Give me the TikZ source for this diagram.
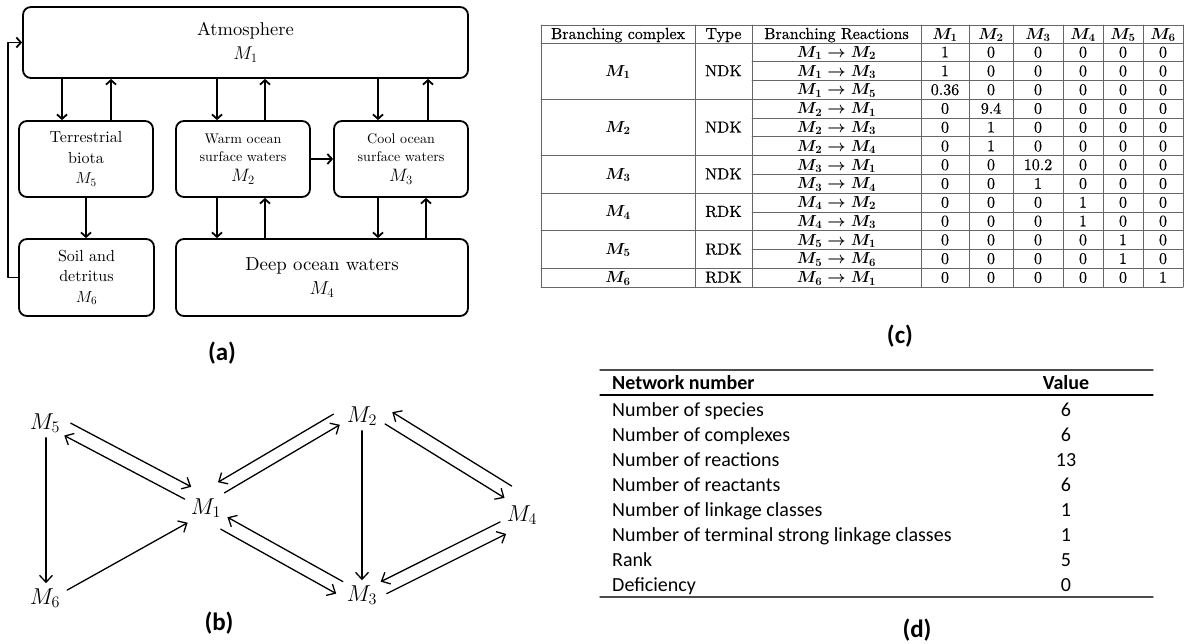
\RequirePackage{fix-cm}
\documentclass[tikz,border=0pt]{standalone}
\usepackage{fontspec}
\setmainfont{lmroman10-regular.otf}
\newfontfamily\tabfont[FakeBold=0.5]{lmroman10-regular.otf}
\newfontfamily\calibri{Carlito}
\usetikzlibrary{arrows.meta}
\newcommand{\fsz}[2]{\fontsize{#1}{#2}\selectfont}

\begin{document}
\begin{tikzpicture}[line join=round, line cap=round, >={Straight Barb[length=7pt,width=13pt]}, x=1pt, y=-1pt]
	\tikzset{box/.style={draw, rounded corners=8pt, line width=1.8pt, align=center, inner sep=0pt},
		flow/.style={->, line width=1.8pt, >={Straight Barb[length=4.5pt,width=10pt]}},
		species/.style={inner sep=5pt, font=\fsz{23}{23}},
		react/.style={->, line width=1.3pt},
		grid/.style={black!60, line width=0.8pt},
		cell/.style={font=\tabfont\boldmath\fsz{16}{16}, inner sep=0pt, text height=10.5pt, text depth=0.5pt},
		panel/.style={font=\calibri\bfseries\fsz{25}{25}},
		rowtxt/.style={font=\calibri\fsz{20}{20}, inner sep=0pt}}
	\useasboundingbox (0,0) rectangle (1185,643);
	% (a) compartments
	\node[box, minimum width=445pt, minimum height=71pt, font=\fsz{18.5}{24}] (atm) at (245.5,42.5) {Atmosphere\\$M_1$};
	\node[box, minimum width=134pt, minimum height=76pt, font=\fsz{16}{20.5}] (terr) at (86,159) {Terrestrial\\biota\\$M_5$};
	\node[box, minimum width=134pt, minimum height=76pt, font=\fsz{14}{18}] (warm) at (243,159) {Warm ocean\\surface waters\\[2pt]{\fsz{18}{20}$M_2$}};
	\node[box, minimum width=134pt, minimum height=76pt, font=\fsz{14}{18}] (cool) at (401,159) {Cool ocean\\surface waters\\[2pt]{\fsz{18}{20}$M_3$}};
	\node[box, minimum width=135pt, minimum height=77pt, font=\fsz{16}{20.5}] (soil) at (86.5,277.5) {Soil and\\detritus\\$M_6$};
	\node[box, minimum width=292pt, minimum height=77pt, font=\fsz{18.8}{24}] (deep) at (322,277.5) {Deep ocean waters\\$M_4$};
	\draw[flow] ([xshift=-24pt]terr.north |- atm.south) -- ([xshift=-24pt]terr.north);
	\draw[flow] ([xshift=25pt]terr.north) -- ([xshift=25pt]terr.north |- atm.south);
	\draw[flow] ([xshift=-26pt]warm.north |- atm.south) -- ([xshift=-26pt]warm.north);
	\draw[flow] ([xshift=22pt]warm.north) -- ([xshift=22pt]warm.north |- atm.south);
	\draw[flow] ([xshift=-23pt]cool.north |- atm.south) -- ([xshift=-23pt]cool.north);
	\draw[flow] ([xshift=27pt]cool.north) -- ([xshift=27pt]cool.north |- atm.south);
	\draw[flow] (terr.south) -- (terr.south |- soil.north);
	\draw[flow] (warm.east) -- (cool.west);
	\draw[flow] ([xshift=-26pt]warm.south) -- ([xshift=-26pt]warm.south |- deep.north);
	\draw[flow] ([xshift=22pt]warm.south |- deep.north) -- ([xshift=22pt]warm.south);
	\draw[flow] ([xshift=-23pt]cool.south) -- ([xshift=-23pt]cool.south |- deep.north);
	\draw[flow] ([xshift=25pt]cool.south |- deep.north) -- ([xshift=25pt]cool.south);
	\draw[flow] (soil.west) -- ++(-10,0) |- (atm.west);
	\node[panel] (lbla) at (222,353) {(a)};
	% (b) reaction graph
	\node[species] (m5) at (45,423) {$M_5$};
	\node[species] (m6) at (45,598) {$M_6$};
	\node[species] (m1) at (206,508) {$M_1$};
	\node[species] (m2) at (362,416) {$M_2$};
	\node[species] (m3) at (362,595) {$M_3$};
	\node[species] (m4) at (522,515) {$M_4$};
	\draw[react, transform canvas={shift={(5.5,-10.5)}}] (m5) -- (m1);
	\draw[react, transform canvas={shift={(-1,1.8)}}] (m1) -- (m5);
	\draw[react, transform canvas={shift={(-1.9,-3.2)}}] (m1) -- (m2);
	\draw[react, transform canvas={shift={(-8.3,-13.8)}}] (m2) -- (m1);
	\draw[react, transform canvas={shift={(-5.5,9.9)}}] (m1) -- (m3);
	\draw[react, transform canvas={shift={(1.2,-2.1)}}] (m3) -- (m1);
	\draw[react, transform canvas={shift={(2.8,-4.6)}}] (m2) -- (m4);
	\draw[react, transform canvas={shift={(10,-16.4)}}] (m4) -- (m2);
	\draw[react, transform canvas={shift={(-1.6,-3.2)}}] (m4) -- (m3);
	\draw[react, transform canvas={shift={(4.4,8.8)}}] (m3) -- (m4);
	\draw[react, transform canvas={shift={(1,0)}}] (m5) -- (m6);
	\draw[react, transform canvas={shift={(1.9,3.4)}}] (m6) -- (m1);
	\draw[react] (m2) -- (m3);
	\node[panel] (lblb) at (219,623) {(b)};
	% (c) branching table
	\foreach \x in {541,695,752,921,969,1013,1063,1103,1143,1183}
	\draw[grid] (\x,25) -- (\x,287);
	\foreach \k in {0,3,6,8,10,12,13}
	\draw[grid] (541,{43+\k*18.77}) -- (1183,{43+\k*18.77});
	\draw[grid] (541,25) -- (1183,25);
	\foreach \k in {1,2,4,5,7,9,11}
	\draw[grid] (752,{43+\k*18.77}) -- (1183,{43+\k*18.77});
	\foreach \x/\t in {618/Branching complex,723.5/Type,836.5/Branching Reactions,945/$M_1$,991/$M_2$,1038/$M_3$,1083/$M_4$,1123/$M_5$,1163/$M_6$}
	\node[cell] at (\x,34) {\t};
	\foreach \y/\m/\t in {71.2/1/NDK,127.5/2/NDK,174.4/3/NDK,211.9/4/RDK,249.5/5/RDK,277.6/6/RDK}
	{\node[cell] at (618,\y) {$M_\m$};
	\node[cell] at (723.5,\y) {\t};}
	\foreach \k/\a/\b/\va/\vb/\vc/\vd/\ve/\vf in {1/1/2/1/0/0/0/0/0,2/1/3/1/0/0/0/0/0,3/1/5/0.36/0/0/0/0/0,4/2/1/0/9.4/0/0/0/0,5/2/3/0/1/0/0/0/0,6/2/4/0/1/0/0/0/0,7/3/1/0/0/10.2/0/0/0,8/3/4/0/0/1/0/0/0,9/4/2/0/0/0/1/0/0,10/4/3/0/0/0/1/0/0,11/5/1/0/0/0/0/1/0,12/5/6/0/0/0/0/1/0,13/6/1/0/0/0/0/0/1}
	{\node[cell] at (836.5,{43+(\k-0.5)*18.77}) {$M_\a\rightarrow M_\b$};
	\foreach \x/\v in {945/\va,991/\vb,1038/\vc,1083/\vd,1123/\ve,1163/\vf}
	\node[cell] at (\x,{43+(\k-0.5)*18.77}) {\v};}
	\node[panel] (lblc) at (900,336) {(c)};
	% (d) network numbers
	\draw[line width=1.4pt, black!70] (600,370) -- (1153,370);
	\draw[line width=1.2pt] (600,395) -- (1153,395);
	\draw[line width=1.4pt, black!70] (600,597) -- (1153,597);
	\node[rowtxt, font=\calibri\bfseries\fsz{20}{20}, anchor=base west] at (612,389.4) {Network number};
	\node[rowtxt, font=\calibri\bfseries\fsz{20}{20}, anchor=base] at (1066,389.4) {Value};
	\foreach \y/\t/\v in {416.4/Number of species/6,441.7/Number of complexes/6,466.4/Number of reactions/13,491.7/Number of reactants/6,516.7/Number of linkage classes/1,541.7/Number of terminal strong linkage classes/1,566.4/Rank/5,591.7/Deficiency/0}
	{\node[rowtxt, anchor=base west] at (612,\y) {\t};
	\node[rowtxt, anchor=base] at (1066,\y) {\v};}
	\node[panel] (lbld) at (917,630) {(d)};
\end{tikzpicture}
\end{document}
